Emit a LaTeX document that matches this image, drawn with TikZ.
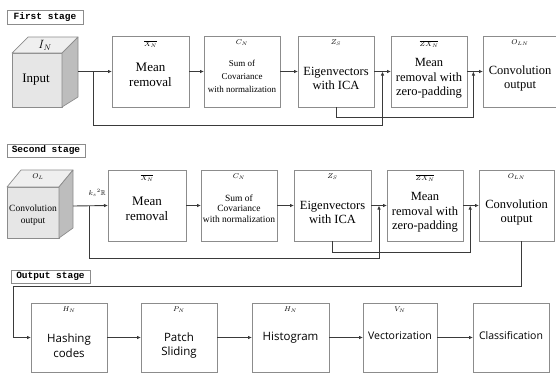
\documentclass[tikz,border=0pt]{standalone}
\usepackage{fontspec}
\usepackage{amssymb}
\setmainfont{Liberation Serif}
\setmonofont{Liberation Mono}
\newfontfamily\uisans{Open Sans}
\usetikzlibrary{arrows.meta,calc}
\definecolor{boxgray}{HTML}{8C8C8C}
\definecolor{linegray}{HTML}{3A3A3A}
\definecolor{cubefront}{HTML}{E6E6E6}
\definecolor{cubetop}{HTML}{EFEFEF}
\definecolor{cubeside}{HTML}{BDBDBD}
\begin{document}
\begin{tikzpicture}[x=1pt,y=-1pt,
  box/.style={draw=boxgray,line width=0.8pt,inner sep=0pt,outer sep=0pt},
  stagebox/.style={draw=boxgray,line width=0.7pt,font=\ttfamily\bfseries\fontsize{9.5}{10}\selectfont,inner sep=0pt,outer sep=0pt},
  conn/.style={draw=linegray,line width=0.9pt,-{Latex[length=4pt,width=3.5pt]}},
  plain/.style={draw=linegray,line width=0.9pt},
  cubeface/.style={draw=boxgray,line width=0.7pt,line join=round},
  lab/.style={font=\fontsize{7}{8}\selectfont,inner sep=1pt},
  toplab/.style={label={[lab,anchor=north,yshift=-3pt]north:#1}},
  serifbig/.style={font=\fontsize{13}{15}\selectfont,align=center,inner sep=0pt},
  serifmid/.style={font=\fontsize{12.5}{14.5}\selectfont,align=center,inner sep=0pt},
  serifsmall/.style={font=\fontsize{9}{13}\selectfont,align=center,inner sep=0pt},
  sansbig/.style={font=\uisans\fontsize{11.5}{14.5}\selectfont,align=center,inner sep=0pt},
  sanssmall/.style={font=\uisans\fontsize{10.5}{13}\selectfont,align=center,inner sep=0pt}
]
\useasboundingbox (0,0) rectangle (556,373);

% ---------- First stage ----------
\node[stagebox,minimum width=76pt,minimum height=14pt] (st1) at (45,17) {First stage};

\filldraw[cubeface,fill=cubefront] (12,53) rectangle (62,107);
\filldraw[cubeface,fill=cubetop] (12,53) -- (28,37) -- (78,37) -- (62,53) -- cycle;
\filldraw[cubeface,fill=cubeside] (62,53) -- (78,37) -- (78,97) -- (62,107) -- cycle;
\node[font=\fontsize{12}{13}\selectfont,inner sep=0pt] (in1lab) at (45,45) {$I_N$};
\node[serifbig] (in1t) at (36,80) {Input};
\coordinate (cube1) at (78,71.5);

\node[box,minimum width=77pt,minimum height=71pt,toplab={$\overline{X_N}$}] (mr1) at (150.5,71.5) {};
\node[serifbig] (mr1t) at ([yshift=-3pt]mr1.center) {Mean\\removal};
\node[box,minimum width=76pt,minimum height=71pt,toplab={$C_N$}] (sc1) at (242,71.5) {};
\node[serifsmall] (sc1t) at ([yshift=-5pt]sc1.center) {Sum of\\Covariance\\with normalization};
\node[box,minimum width=76pt,minimum height=71pt,toplab={$Z_S$}] (eig1) at (336,71.5) {};
\node[serifmid] (eig1t) at ([yshift=-7pt]eig1.center) {Eigenvectors\\with ICA};
\node[box,minimum width=76pt,minimum height=71pt,toplab={$\overline{ZX_N}$}] (zx1) at (429,71.5) {};
\node[serifmid] (zx1t) at ([yshift=-7pt]zx1.center) {Mean\\removal with\\zero-padding};
\node[box,minimum width=74pt,minimum height=71pt,toplab={$O_{LN}$}] (conv1) at (520,71.5) {};
\node[serifmid] (conv1t) at ([yshift=-7pt]conv1.center) {Convolution\\output};

\draw[conn] (cube1) -- (mr1.west);
\draw[conn] (mr1.east) -- (sc1.west);
\draw[conn] (sc1.east) -- (eig1.west);
\draw[conn] (eig1.east) -- (zx1.west);
\draw[conn] (zx1.east) -- (conv1.west);
\coordinate (b1) at (93,71.5);
\coordinate (b1d) at (93,125);
\coordinate (fb1) at ($(eig1.east)!0.5!(zx1.west)$);
\coordinate (fb2) at ($(zx1.east)!0.4!(conv1.west)$);
\draw[conn] (b1) -- (b1d) -| (fb1);
\draw[conn] (eig1.south) -- ++(0,10) -| (fb2);

% ---------- Second stage ----------
\node[stagebox,minimum width=78pt,minimum height=13pt] (st2) at (46,150.5) {Second stage};

\filldraw[cubeface,fill=cubefront] (7,187) rectangle (59,238);
\filldraw[cubeface,fill=cubetop] (7,187) -- (21,170) -- (73,170) -- (59,187) -- cycle;
\filldraw[cubeface,fill=cubeside] (59,187) -- (73,170) -- (73,228) -- (59,238) -- cycle;
\node[lab] (in2lab) at (38,177) {$O_L$};
\node[font=\fontsize{9.5}{12}\selectfont,align=center,inner sep=0pt] (in2t) at (33,215) {Convolution\\output};
\coordinate (cube2) at (73,206);

\node[box,minimum width=78pt,minimum height=71pt,toplab={$\overline{X_N}$}] (mr2) at (147,205.5) {};
\node[serifbig] (mr2t) at ([yshift=-3pt]mr2.center) {Mean\\removal};
\node[box,minimum width=76pt,minimum height=71pt,toplab={$C_N$}] (sc2) at (239,205.5) {};
\node[font=\fontsize{9.5}{10.5}\selectfont,align=center,inner sep=0pt] (sc2t) at ([yshift=-3pt]sc2.center) {Sum of\\Covariance\\with normalization};
\node[box,minimum width=77pt,minimum height=71pt,toplab={$Z_S$}] (eig2) at (332.5,205.5) {};
\node[serifmid] (eig2t) at ([yshift=-7pt]eig2.center) {Eigenvectors\\with ICA};
\node[box,minimum width=76pt,minimum height=71pt,toplab={$\overline{ZX_N}$}] (zx2) at (425,205.5) {};
\node[serifmid] (zx2t) at ([yshift=-7pt]zx2.center) {Mean\\removal with\\zero-padding};
\node[box,minimum width=75pt,minimum height=71pt,toplab={$O_{LN}$}] (conv2) at (516.5,205.5) {};
\node[serifmid] (conv2t) at ([yshift=-7pt]conv2.center) {Convolution\\output};

\node[lab,anchor=south east] (ks) at ([xshift=-1pt,yshift=8pt]mr2.west) {$k_s{}^2\mathbb{R}$};

\draw[conn] (cube2) -- (mr2.west);
\draw[conn] (mr2.east) -- (sc2.west);
\draw[conn] (sc2.east) -- (eig2.west);
\draw[conn] (eig2.east) -- (zx2.west);
\draw[conn] (zx2.east) -- (conv2.west);
\coordinate (b2) at (89,206);
\coordinate (b2d) at (89,258);
\coordinate (fb3) at ($(eig2.east)!0.5!(zx2.west)$);
\coordinate (fb4) at ($(zx2.east)!0.45!(conv2.west)$);
\draw[conn] (b2) -- (b2d) -| (fb3);
\draw[conn] (eig2.south) -- ++(0,11) -| (fb4);

% ---------- Output stage ----------
\node[stagebox,minimum width=79pt,minimum height=13pt] (st3) at (50.5,276.5) {Output stage};

\node[box,minimum width=76pt,minimum height=69pt,toplab={$H_N$}] (hash) at (69,337.5) {};
\node[sansbig] (hasht) at ([yshift=-8pt]hash.center) {Hashing\\codes};
\node[box,minimum width=76pt,minimum height=69pt,toplab={$P_N$}] (patch) at (179,337.5) {};
\node[sansbig] (patcht) at ([yshift=-8pt]patch.center) {Patch\\Sliding};
\node[box,minimum width=77pt,minimum height=69pt,toplab={$H_N$}] (hist) at (290.5,337.5) {};
\node[sansbig] (histt) at (hist.center) {Histogram};
\node[box,minimum width=74pt,minimum height=69pt,toplab={$V_N$}] (vec) at (400,337.5) {};
\node[sanssmall] (vect) at ([yshift=2pt]vec.center) {Vectorization};
\node[box,minimum width=76pt,minimum height=69pt] (cls) at (511,337.5) {};
\node[sanssmall] (clst) at ([yshift=2pt]cls.center) {Classification};

\coordinate (o1) at ([xshift=4.5pt]conv2.south);
\coordinate (turn) at (13,286);
\draw[conn] (o1) |- (turn) |- (hash.west);
\draw[conn] (hash.east) -- (patch.west);
\draw[conn] (patch.east) -- (hist.west);
\draw[conn] (hist.east) -- (vec.west);
\draw[conn] (vec.east) -- (cls.west);
\end{tikzpicture}
\end{document}
